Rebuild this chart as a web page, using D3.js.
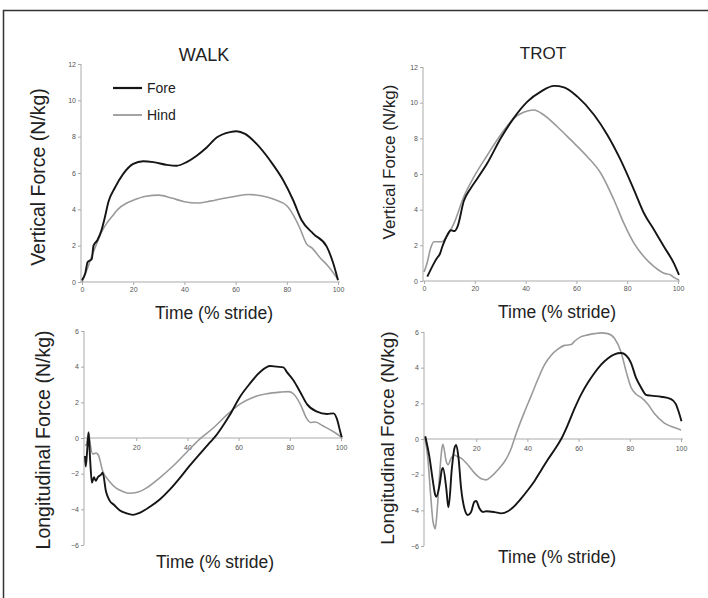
<!DOCTYPE html>
<meta charset="utf-8">
<html>
<style>
body { margin: 0; background: #fff; }
svg { display: block; font-family: "Liberation Sans", Arial, sans-serif; }
.axis path, .axis line { stroke: #aaa; stroke-width: 1px; }
.axis text { fill: #555; font-size: 7px; }
.label { fill: #222; }
</style>
<body>
<script src="https://cdnjs.cloudflare.com/ajax/libs/d3/7.8.5/d3.min.js"></script>
<script>
// values: [time % stride, force N/kg]
var walkVertFore = [[0,0.1],[1.3,0.5],[2.2,1.1],[3.8,1.25],[4.5,2.0],[6,2.3],[7.5,2.8],[9,3.6],[10.3,4.4],[12.9,5.2],[16.1,5.95],[20,6.5],[23.9,6.65],[27.9,6.6],[33.1,6.45],[37,6.4],[40.9,6.6],[44.8,6.95],[48.7,7.4],[52.6,7.95],[57.8,8.25],[60.4,8.3],[63.7,8.15],[68.2,7.6],[73.4,6.7],[78.6,5.6],[82.5,4.5],[85.8,3.4],[90.4,2.65],[95.6,1.95],[98.2,1.0],[100,0.1]];
var walkVertHind = [[0,0],[2,0.7],[4,1.5],[6,2.2],[7.8,2.8],[10,3.3],[11.7,3.6],[14,4.0],[17.5,4.35],[20,4.5],[25,4.72],[30,4.78],[35,4.62],[40,4.42],[45,4.35],[50,4.45],[55,4.6],[60,4.72],[65,4.82],[70,4.75],[75,4.55],[80,4.2],[82.5,3.7],[85,3.0],[87.7,2.1],[90,1.85],[92.9,1.35],[96,0.9],[100,0.15]];
var trotVertFore = [[1.3,0.24],[3.9,0.99],[5.2,1.3],[6.2,1.5],[7.2,1.92],[9.2,2.58],[10.5,2.85],[12,2.8],[13.2,3.05],[15.7,4.5],[18.4,5.2],[21,5.75],[24.9,6.6],[30.2,8.0],[35.4,9.15],[40.7,10.06],[46,10.62],[51.2,10.94],[55.1,10.86],[60.4,10.34],[67,9.31],[72.2,8.19],[77.4,6.79],[82.7,5.1],[86.6,3.8],[90.6,2.86],[94.5,1.92],[98.4,0.99],[100.4,0.34]];
var trotVertHind = [[0,0.5],[1.2,1.0],[2.6,1.83],[3.9,2.2],[5.5,2.2],[7,2.2],[9.2,2.55],[11.8,3.23],[15.7,4.73],[19.7,5.85],[24.9,7.05],[30.2,8.2],[35.4,9.12],[40.7,9.53],[43.3,9.59],[47.2,9.31],[52.5,8.65],[57.8,7.91],[64.3,6.97],[69.6,6.04],[74.8,4.54],[78.7,3.23],[82.7,2.11],[86.6,1.36],[90.6,0.8],[94.5,0.43],[97.1,0.34],[98.4,0.2],[100.4,0.06]];
var walkLongFore = [[0,-1.0],[0.3,-1.6],[0.8,-0.8],[1.4,0.3],[2.0,-1.2],[2.7,-2.5],[3.5,-2.2],[4.2,-2.4],[5,-2.2],[6.3,-2.05],[6.9,-1.95],[8.2,-3.0],[9.5,-3.48],[11.5,-3.77],[13.5,-4.05],[16.1,-4.22],[18.7,-4.31],[21.3,-4.2],[25.2,-3.87],[29.2,-3.45],[33.1,-2.9],[37,-2.25],[40.9,-1.55],[44.8,-0.9],[48.8,-0.25],[51,0.1],[53.5,0.6],[56.6,1.3],[60.5,2.3],[64.4,3.05],[68.4,3.7],[72.3,4.04],[74.9,4.0],[77.5,3.96],[78.8,3.71],[81.4,3.24],[84.1,2.57],[86.7,1.9],[90.6,1.48],[94.5,1.35],[97.1,1.38],[98.4,1.07],[99.7,0.35],[100.3,0.04]];
var walkLongHind = [[0,-0.4],[0.6,-0.37],[1.4,0.35],[2,-0.3],[3,-0.9],[4.3,-0.85],[5.2,-0.95],[6.9,-1.85],[9.5,-2.42],[12.2,-2.81],[14.8,-3.0],[17.4,-3.1],[20,-3.06],[23.9,-2.81],[29.2,-2.23],[34.4,-1.57],[39.6,-0.81],[44.8,-0.06],[50.1,0.56],[55.3,1.28],[60.5,1.9],[65.8,2.29],[71,2.48],[76.2,2.57],[79.5,2.6],[81.4,2.48],[84.1,1.9],[86.7,1.07],[88,0.87],[89.9,0.9],[93.2,0.66],[97.1,0.35],[100.3,0.04]];
var trotLongFore = [[0.1,0.15],[1.8,-1.07],[3.1,-2.38],[4,-3.14],[4.4,-3.24],[5.7,-2.57],[6.6,-1.72],[7,-1.63],[8.3,-2.76],[9,-3.71],[9.2,-3.81],[10.5,-1.63],[11.5,-0.52],[12.2,-0.33],[13.1,-1.07],[14.1,-2.76],[15.4,-3.9],[16.7,-4.26],[18,-4.09],[19.3,-3.52],[20,-3.48],[21.3,-3.9],[22.6,-4.09],[23.9,-4.05],[27.2,-4.1],[29.8,-4.17],[32.4,-4.05],[35,-3.75],[37.6,-3.33],[40.2,-2.86],[42.8,-2.35],[45.4,-1.75],[48,-1.15],[50.6,-0.6],[53.2,0],[55.8,0.8],[58.4,1.7],[61,2.5],[63.6,3.15],[66.2,3.7],[68.8,4.17],[71.4,4.52],[74,4.75],[76.6,4.82],[78.5,4.7],[80.5,4.26],[82.4,3.44],[84.4,2.89],[86.3,2.48],[88.3,2.43],[92.2,2.37],[96.1,2.24],[98,1.96],[99.3,1.43],[100.2,1.0]];
var trotLongHind = [[0,0.04],[1.1,-1.07],[2.2,-3.14],[3.1,-4.6],[3.7,-4.95],[4,-5.04],[4.8,-3.9],[5.7,-2.0],[6.6,-0.52],[7,-0.3],[8.3,-1.26],[9,-1.44],[10.2,-1.07],[11.5,-0.9],[12.8,-1.0],[14.1,-1.07],[16.7,-1.44],[19.3,-1.9],[22,-2.23],[23.9,-2.29],[25.9,-2.1],[28.5,-1.72],[31.1,-1.26],[32.4,-0.94],[33.7,-0.52],[35,0.04],[36.3,0.57],[38.9,1.53],[41.5,2.43],[44.1,3.35],[46.7,4.17],[49.3,4.7],[51.9,5.04],[54.5,5.25],[57.1,5.3],[58.4,5.48],[61,5.74],[63.6,5.84],[66.2,5.91],[68.8,5.95],[71.4,5.91],[74,5.65],[76.6,4.87],[78.5,3.82],[80.5,2.89],[82.4,2.52],[84.4,2.33],[87,1.96],[89.6,1.43],[93.5,0.89],[97.4,0.64],[100,0.51]];

var vertTicks = [0, 2, 4, 6, 8, 10, 12];
var longTicks = [-6, -4, -2, 0, 2, 4, 6];
var timeTicksTop = [0, 20, 40, 60, 80, 100];
var timeTicksBottom = [20, 40, 60, 80, 100];
var titles = ["WALK", "TROT"];
var legendNames = ["Fore", "Hind"];

var foreColor = "#151515", hindColor = "#9a9a9a";

var svg = d3.select("body").append("svg")
	.attr("width", 708)
	.attr("height", 598);

// figure frame (only top and left edges are visible in the crop)
svg.append("path")
	.attr("d", "M3.5,598V10.5H708")
	.attr("fill", "none")
	.attr("stroke", "#333")
	.attr("stroke-width", 1.5);

var panels = [
	{x: [82, 338], y: [282, 64], dom: [0, 12], ticks: vertTicks, top: true, fore: walkVertFore, hind: walkVertHind,
	 ylab: "Vertical Force (N/kg)", ylx: 38, yly: 177, yls: 19.5, tx: 214, ty: 313},
	{x: [424, 678], y: [281, 67], dom: [0, 12], ticks: vertTicks, top: true, fore: trotVertFore, hind: trotVertHind,
	 ylab: "Vertical Force (N/kg)", ylx: 389, yly: 162, yls: 17, tx: 557, ty: 312},
	{x: [85, 341], y: [545, 331], dom: [-6, 6], ticks: longTicks, top: false, fore: walkLongFore, hind: walkLongHind,
	 ylab: "Longitudinal Force (N/kg)", ylx: 43, yly: 440, yls: 19.5, tx: 215, ty: 562},
	{x: [425, 681], y: [546, 332], dom: [-6, 6], ticks: longTicks, top: false, fore: trotLongFore, hind: trotLongHind,
	 ylab: "Longitudinal Force (N/kg)", ylx: 387, yly: 438, yls: 19, tx: 557, ty: 557}
];

panels.forEach(function(p) {
	var x = d3.scaleLinear().domain([0, 100]).range(p.x);
	var y = d3.scaleLinear().domain(p.dom).range(p.y);
	var g = svg.append("g");

	g.append("g")
		.attr("class", "axis")
		.attr("transform", "translate(" + (p.x[0] - 1) + ",0)")
		.call(d3.axisLeft(y).tickValues(p.ticks).tickSize(3).tickSizeOuter(0).tickPadding(2))
		.call(s => s.select(".domain").attr("d", "M0," + y(p.dom[0]) + "V" + y(p.dom[1])));

	g.append("g")
		.attr("class", "axis")
		.attr("transform", "translate(0," + y(0) + ")")
		.call(d3.axisBottom(x).tickValues(p.top ? timeTicksTop : timeTicksBottom)
			.tickSize(3).tickSizeOuter(0).tickPadding(p.top ? 2 : 4))
		.call(s => s.select(".domain").attr("d", "M" + (p.x[0] - 1) + ",0H" + (p.x[1] + 2)));

	var line = d3.line()
		.x(d => x(d[0]))
		.y(d => y(d[1]))
		.curve(d3.curveMonotoneX);

	g.append("path").datum(p.hind)
		.attr("d", line).attr("fill", "none")
		.attr("stroke", hindColor).attr("stroke-width", 1.6);
	g.append("path").datum(p.fore)
		.attr("d", line).attr("fill", "none")
		.attr("stroke", foreColor).attr("stroke-width", 1.9);

	g.append("text").attr("class", "label")
		.attr("transform", "translate(" + p.ylx + "," + p.yly + ") rotate(-90)")
		.attr("text-anchor", "middle").attr("dy", "0.35em")
		.style("font-size", p.yls + "px")
		.text(p.ylab);

	g.append("text").attr("class", "label")
		.attr("x", p.tx).attr("y", p.ty)
		.attr("text-anchor", "middle").attr("dy", "0.35em")
		.style("font-size", "17.5px")
		.text("Time (% stride)");
});

svg.append("text").attr("class", "label")
	.attr("x", 204).attr("y", 55).attr("dy", "0.35em")
	.attr("text-anchor", "middle").style("font-size", "18px")
	.text(titles[0]);
svg.append("text").attr("class", "label")
	.attr("x", 543).attr("y", 53).attr("dy", "0.35em")
	.attr("text-anchor", "middle").style("font-size", "17px")
	.text(titles[1]);

// legend
var legend = svg.append("g").attr("transform", "translate(113,88)");
legendNames.forEach(function(name, i) {
	legend.append("line")
		.attr("x1", 0).attr("x2", 29)
		.attr("y1", i * 27).attr("y2", i * 27)
		.attr("stroke", i == 0 ? foreColor : hindColor)
		.attr("stroke-width", i == 0 ? 2.2 : 1.8);
	legend.append("text").attr("class", "label")
		.attr("x", 34).attr("y", i * 27).attr("dy", "0.35em")
		.style("font-size", "14px")
		.text(name);
});
</script>
</body>
</html>
